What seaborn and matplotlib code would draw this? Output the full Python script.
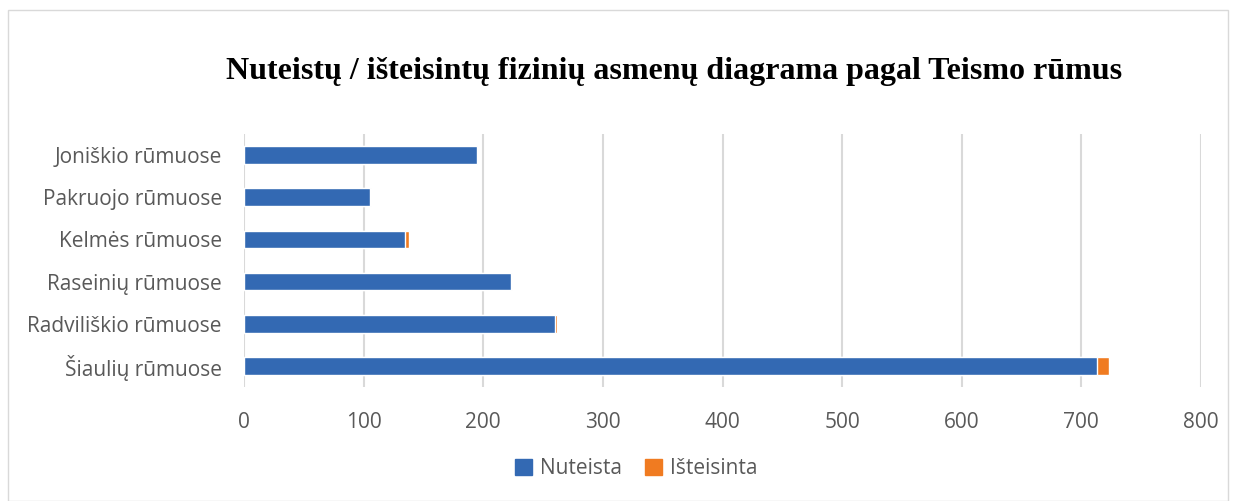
import pandas as pd
import seaborn as sns
import matplotlib.pyplot as plt
from matplotlib.patches import Patch

# Duomenys
rumai = ['Joniškio rūmuose', 'Pakruojo rūmuose', 'Kelmės rūmuose',
         'Raseinių rūmuose', 'Radviliškio rūmuose', 'Šiaulių rūmuose']
nuteista = [195, 105, 135, 223, 260, 713]
isteisinta = [0, 1, 3, 1, 2, 10]

df = pd.DataFrame({'rumai': rumai, 'Nuteista': nuteista, 'Išteisinta': isteisinta})
df['viso'] = df['Nuteista'] + df['Išteisinta']

sns.set_style('white')
plt.rcParams['font.family'] = ['Open Sans', 'DejaVu Sans']

blue = '#3369b3'
orange = '#f07b21'
gray = '#595959'

fig = plt.figure(figsize=(12.36, 5.01), dpi=100)
ax = fig.add_axes([244 / 1236, 1 - 387 / 501, (1201 - 244) / 1236, (387 - 134) / 501])

# sukrauti stulpeliai: pirma visa suma (oranžinė), ant viršaus nuteisti (mėlyna)
sns.barplot(data=df, x='viso', y='rumai', color=orange, width=0.42, ax=ax, saturation=1)
sns.barplot(data=df, x='Nuteista', y='rumai', color=blue, width=0.42, ax=ax, saturation=1)

ax.set_xlim(0, 800)
ax.set_xticks(range(0, 801, 100))
ax.set_xlabel('')
ax.set_ylabel('')
ax.xaxis.grid(True, color='#d9d9d9', linewidth=1.5)
ax.set_axisbelow(True)
for s in ax.spines.values():
    s.set_visible(False)
ax.tick_params(axis='both', length=0, labelsize=15, labelcolor=gray)
ax.tick_params(axis='y', pad=16)
ax.tick_params(axis='x', pad=18)

fig.text(0.545, 1 - 72 / 501, 'Nuteistų / išteisintų fizinių asmenų diagrama pagal Teismo rūmus',
         ha='center', va='center', fontsize=23, fontweight='bold',
         family=['Liberation Serif', 'DejaVu Serif'], color='black')

handles = [Patch(color=blue, label='Nuteista'), Patch(color=orange, label='Išteisinta')]
fig.legend(handles=handles, loc='center', bbox_to_anchor=(0.515, 1 - 469 / 501), ncol=2,
           frameon=False, fontsize=15, labelcolor=gray, handlelength=0.8, handleheight=0.8,
           columnspacing=1.1, handletextpad=0.4)

# rėmelis aplink diagramą
fig.patches.append(plt.Rectangle((8 / 1236, 0), 1 - 16 / 1236, 1 - 10 / 501, transform=fig.transFigure,
                                 fill=False, edgecolor='#d9d9d9', linewidth=1))

fig.savefig('out.png', dpi=100)
